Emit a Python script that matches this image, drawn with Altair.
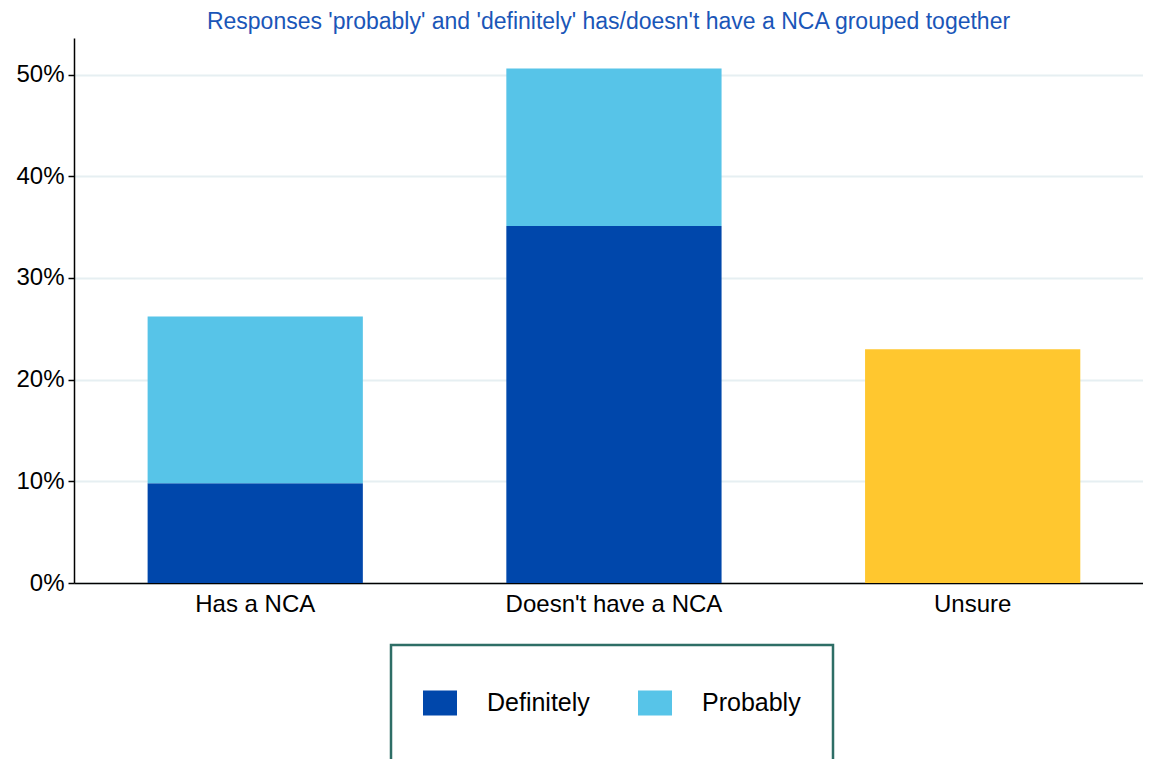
import altair as alt
import pandas as pd

categories = ["Has a NCA", "Doesn't have a NCA", "Unsure"]
definitely = [0.098, 0.351, None]
probably = [0.164, 0.155, None]
unsure = [None, None, 0.230]

series_names = ["Definitely", "Probably", "Unsure"]
series_values = [definitely, probably, unsure]
colors = ["#0047AB", "#57C4E8", "#FFC72F", "#FFFFFF"]

rows = []
for s_i, (name, vals) in enumerate(zip(series_names, series_values)):
    for cat, v in zip(categories, vals):
        if v is not None:
            rows.append({"category": cat, "response": name, "value": v, "order": s_i})
df = pd.DataFrame(rows)

FONT = "Liberation Sans"
FS = 24

chart = alt.Chart(df).mark_bar().encode(
    x=alt.X("category:N", sort=categories,
            scale=alt.Scale(paddingInner=0.4, paddingOuter=0.19, align=0.54),
            axis=alt.Axis(title=None, labelAngle=0, ticks=False, domainColor="#000000",
                          domainWidth=1.5, labelFontSize=FS, labelColor="#000000",
                          labelPadding=9, labelFont=FONT, labelLimit=0)),
    y=alt.Y("value:Q", stack="zero",
            scale=alt.Scale(domain=[0, 0.536], nice=False),
            axis=alt.Axis(title=None, format=".0%", values=[0, 0.1, 0.2, 0.3, 0.4, 0.5],
                          grid=True, gridColor="#E6EFF2", gridWidth=2,
                          domainColor="#000000", domainWidth=1.5, tickColor="#000000",
                          tickSize=6, tickWidth=1.5, labelFontSize=FS, labelColor="#000000",
                          labelPadding=4, labelFont=FONT)),
    color=alt.Color("response:N",
                    scale=alt.Scale(domain=series_names + ["_pad"], range=colors),
                    legend=alt.Legend(
                        orient="none", legendX=317, legendY=607,
                        direction="horizontal", columns=2,
                        values=["Definitely", "Probably", "_pad"],
                        labelExpr="datum.label == '_pad' ? '' : datum.label",
                        symbolType="M-1,-0.735H1V0.735H-1Z", symbolSize=1156,
                        symbolStrokeWidth=0, symbolOpacity=1,
                        labelFontSize=25, labelFont=FONT, labelColor="#000000",
                        labelOffset=30, columnPadding=48, rowPadding=10,
                        padding=32, strokeColor="#2E6E66",
                        title=" ", titleFontSize=9, titlePadding=0)),
    order=alt.Order("order:Q"),
).properties(
    width=1069, height=545,
    title=alt.TitleParams(
        "Responses 'probably' and 'definitely' has/doesn't have a NCA grouped together",
        fontSize=23, font=FONT, fontWeight="normal", color="#1A56B8",
        anchor="middle", offset=4),
    autosize=alt.AutoSizeParams(type="none"),
    padding={"left": 66, "top": 30, "right": 0, "bottom": 176},
).configure_view(stroke=None).configure_legend(strokeWidth=2.5)

chart.save("out.html", embed_options={"renderer": "svg", "actions": False})
